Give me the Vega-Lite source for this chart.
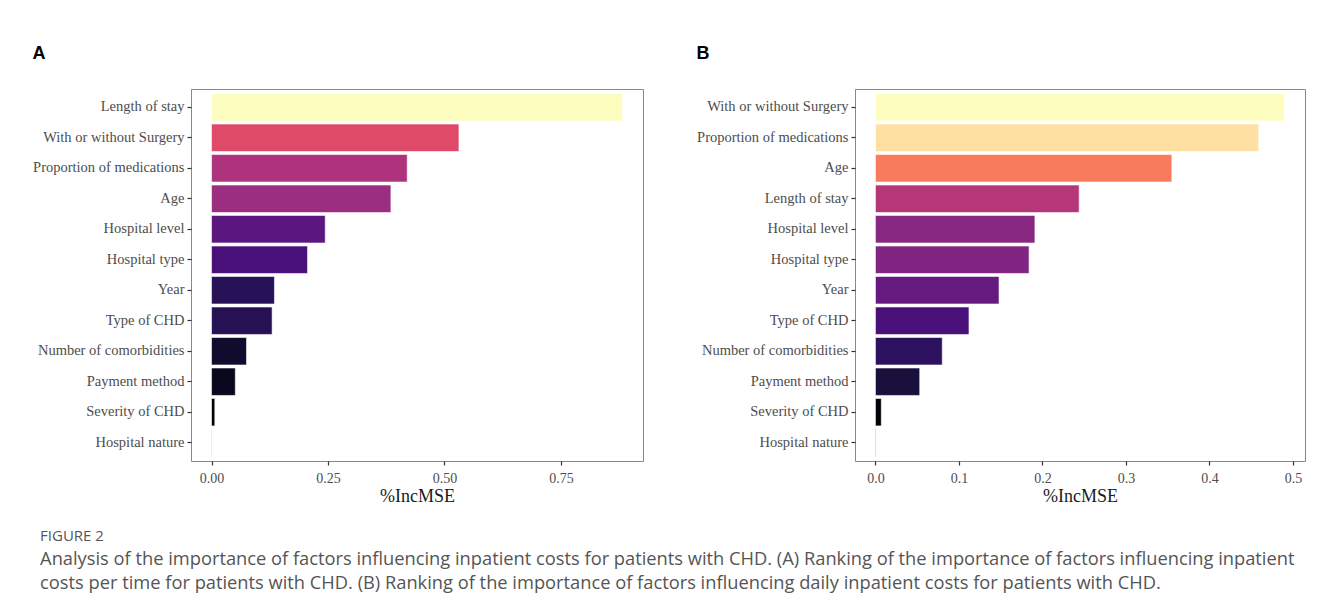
{
  "$schema": "https://vega.github.io/schema/vega-lite/v6.json",
  "background": "white",
  "padding": {"left": 32, "top": 44, "right": 10, "bottom": 10},
  "datasets": {
    "A": [
      {"factor": "Length of stay", "IncMSE": 0.882},
      {"factor": "With or without Surgery", "IncMSE": 0.531},
      {"factor": "Proportion of medications", "IncMSE": 0.420},
      {"factor": "Age", "IncMSE": 0.385},
      {"factor": "Hospital level", "IncMSE": 0.244},
      {"factor": "Hospital type", "IncMSE": 0.206},
      {"factor": "Year", "IncMSE": 0.135},
      {"factor": "Type of CHD", "IncMSE": 0.130},
      {"factor": "Number of comorbidities", "IncMSE": 0.075},
      {"factor": "Payment method", "IncMSE": 0.051},
      {"factor": "Severity of CHD", "IncMSE": 0.007},
      {"factor": "Hospital nature", "IncMSE": 0.0005}
    ],
    "B": [
      {"factor": "With or without Surgery", "IncMSE": 0.490},
      {"factor": "Proportion of medications", "IncMSE": 0.459},
      {"factor": "Age", "IncMSE": 0.355},
      {"factor": "Length of stay", "IncMSE": 0.244},
      {"factor": "Hospital level", "IncMSE": 0.191},
      {"factor": "Hospital type", "IncMSE": 0.184},
      {"factor": "Year", "IncMSE": 0.148},
      {"factor": "Type of CHD", "IncMSE": 0.112},
      {"factor": "Number of comorbidities", "IncMSE": 0.080},
      {"factor": "Payment method", "IncMSE": 0.053},
      {"factor": "Severity of CHD", "IncMSE": 0.007},
      {"factor": "Hospital nature", "IncMSE": 0.0005}
    ]
  },
  "title": {
    "text": "FIGURE 2",
    "subtitle": [
      "Analysis of the importance of factors influencing inpatient costs for patients with CHD. (A) Ranking of the importance of factors influencing inpatient",
      "costs per time for patients with CHD. (B) Ranking of the importance of factors influencing daily inpatient costs for patients with CHD."
    ],
    "orient": "bottom",
    "anchor": "start",
    "frame": "bounds",
    "dx": 8,
    "offset": 23,
    "font": "Open Sans",
    "fontSize": 15,
    "fontWeight": "normal",
    "color": "#555555",
    "subtitleFont": "Open Sans",
    "subtitleFontSize": 18.3,
    "subtitleColor": "#555555",
    "subtitlePadding": 7,
    "subtitleLineHeight": 24
  },
  "config": {
    "view": {"stroke": "#888888", "strokeWidth": 1},
    "axis": {
      "labelFont": "Liberation Serif",
      "labelFontSize": 14.5,
      "labelColor": "#4d4d4d",
      "titleFont": "Liberation Serif",
      "titleFontSize": 18,
      "titleFontWeight": "normal",
      "titleColor": "#1a1a1a",
      "tickColor": "#333333",
      "tickSize": 4,
      "tickWidth": 1.2,
      "domain": false,
      "grid": false,
      "labelPadding": 3
    },
    "axisX": {"labelFontSize": 14, "labelPadding": 6},
    "title": {
      "font": "Liberation Sans",
      "fontSize": 18,
      "fontWeight": "bold",
      "color": "#000000",
      "anchor": "start",
      "frame": "bounds",
      "offset": 26
    }
  },
  "hconcat": [
    {
      "title": "A",
      "width": 452,
      "height": 372,
      "data": {"name": "A"},
      "mark": {"type": "bar", "stroke": "white", "strokeWidth": 0.8, "strokeOpacity": 0.7},
      "encoding": {
        "y": {
          "field": "factor",
          "type": "nominal",
          "sort": {"field": "IncMSE", "order": "descending"},
          "scale": {"paddingInner": 0.1, "paddingOuter": 0.15},
          "axis": {"title": null}
        },
        "x": {
          "field": "IncMSE",
          "type": "quantitative",
          "scale": {"domain": [-0.0441, 0.9261], "nice": false, "zero": false},
          "axis": {"title": "%IncMSE", "values": [0, 0.25, 0.5, 0.75], "format": ".2f", "titlePadding": 2}
        },
        "color": {
          "field": "IncMSE",
          "type": "quantitative",
          "scale": {"scheme": "magma", "domain": [0, 0.882]},
          "legend": null
        }
      }
    },
    {
      "title": "B",
      "width": 450,
      "height": 372,
      "data": {"name": "B"},
      "mark": {"type": "bar", "stroke": "white", "strokeWidth": 0.8, "strokeOpacity": 0.7},
      "encoding": {
        "y": {
          "field": "factor",
          "type": "nominal",
          "sort": {"field": "IncMSE", "order": "descending"},
          "scale": {"paddingInner": 0.1, "paddingOuter": 0.15},
          "axis": {"title": null}
        },
        "x": {
          "field": "IncMSE",
          "type": "quantitative",
          "scale": {"domain": [-0.0245, 0.5145], "nice": false, "zero": false},
          "axis": {"title": "%IncMSE", "values": [0, 0.1, 0.2, 0.3, 0.4, 0.5], "format": ".1f", "titlePadding": 2}
        },
        "color": {
          "field": "IncMSE",
          "type": "quantitative",
          "scale": {"scheme": "magma", "domain": [0, 0.49]},
          "legend": null
        }
      }
    }
  ],
  "spacing": 52,
  "resolve": {"scale": {"x": "independent", "y": "independent", "color": "independent"}}
}
